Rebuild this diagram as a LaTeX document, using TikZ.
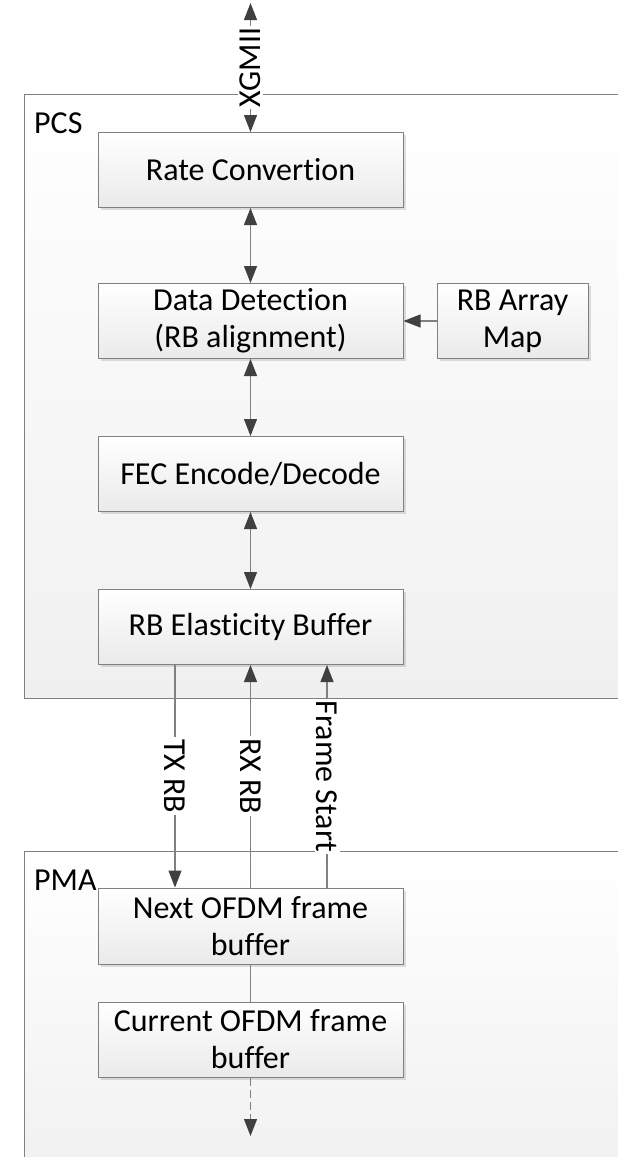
\documentclass[tikz,border=0pt]{standalone}
\usepackage{fontspec}
\setmainfont[Ligatures=NoCommon]{Carlito}
\usepackage{tikz}
\usetikzlibrary{arrows.meta, positioning, shadows}
\usepackage{xcolor}
\definecolor{lineg}{RGB}{128,128,128}
\definecolor{tipg}{RGB}{64,64,64}
\definecolor{boxg}{RGB}{234,234,234}
\definecolor{groupg}{RGB}{240,240,240}

\begin{document}
\begin{tikzpicture}[
    x=1pt, y=-1pt,
    node distance=76pt and 33pt,
    font=\fontsize{32pt}{37pt}\selectfont,
    block/.style={rectangle, draw=lineg, line width=1pt, top color=white, bottom color=boxg,
                  minimum width=305pt, minimum height=75pt, align=center, inner sep=2pt,
                  drop shadow={shadow xshift=2.5pt, shadow yshift=-2.5pt, fill=black, opacity=0.12}},
    group/.style={rectangle, draw=lineg, line width=1pt, top color=white, bottom color=groupg,
                  anchor=north west, minimum width=640pt},
    title/.style={anchor=base west, inner sep=0pt},
    lab/.style={fill=white, text=black, inner sep=2pt},
    arr/.style={-{Triangle[length=17pt, width=13pt, color=tipg]}, line width=1.1pt, lineg},
    biarr/.style={{Triangle[length=17pt, width=13pt, color=tipg]}-{Triangle[length=17pt, width=13pt, color=tipg]}, line width=1.1pt, lineg},
]
    \useasboundingbox (0,0) rectangle (618,1157);
    \clip (0,0) rectangle (618,1157);

    % Groups
    \node[group, minimum height=604pt] (pcs) at (24,94) {};
    \node[title] (pcstitle) at ([xshift=10pt, yshift=-39pt]pcs.north west) {PCS};
    \node[group, minimum height=340pt] (pma) at (24,851) {};
    \node[title] (pmatitle) at ([xshift=10pt, yshift=-39pt]pma.north west) {PMA};

    % PCS column
    \node[block] (rate) at (250.5,170) {Rate Convertion};
    \node[block, below=75pt of rate] (detect) {Data Detection\\(RB alignment)};
    \node[block, right=33pt of detect, minimum width=151pt] (map) {RB Array\\Map};
    \node[block, below=77pt of detect] (fec) {FEC Encode/Decode};
    \node[block, below=77pt of fec] (elast) {RB Elasticity Buffer};

    % PMA column
    \node[block, minimum height=76pt] (next) at (250.5,926) {Next OFDM frame\\buffer};
    \node[block, below=37pt of next] (cur) {Current OFDM frame\\buffer};

    \coordinate (xgmii) at (250.5,3);
    \coordinate (out) at (250.5,1136);

    % Connections
    \draw[biarr] (xgmii) -- (rate.north) node[midway, lab, rotate=90] {XGMII};
    \draw[biarr] (rate) -- (detect);
    \draw[arr] (map) -- (detect);
    \draw[biarr] (detect) -- (fec);
    \draw[biarr] (fec) -- (elast);

    % PCS <-> PMA
    \draw[arr] ([xshift=-75.5pt]elast.south) -- ([xshift=-75.5pt]next.north)
        node[midway, lab, rotate=-90] {TX RB};
    \draw[arr] (next.north) -- (elast.south) node[midway, lab, rotate=-90] {RX RB};
    \draw[arr] ([xshift=76.5pt]next.north) -- ([xshift=76.5pt]elast.south)
        node[midway, lab, rotate=-90] {Frame Start};

    \draw[lineg, line width=1.1pt] (next) -- (cur);
    \draw[arr, dash pattern=on 8pt off 4pt] (cur) -- (out);
\end{tikzpicture}
\end{document}
